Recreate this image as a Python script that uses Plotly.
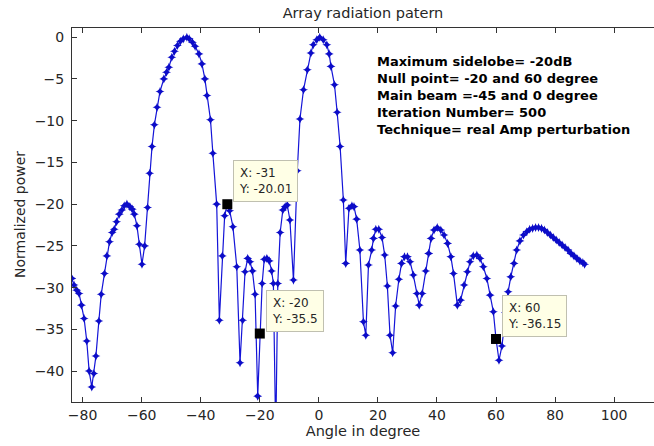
import plotly.graph_objects as go

angle_deg = [
    -83.7, -82.9, -82.0, -81.2, -80.4, -79.5, -78.6, -77.8, -76.9, -76.2, -75.5, -74.5, -73.7, -72.6,
    -71.8, -70.9, -70.0, -69.3, -68.5, -67.6, -66.7, -65.9, -65.0, -64.0, -63.2, -62.5, -61.6, -60.8,
    -59.9, -59.0, -58.0, -57.3, -56.5, -55.7, -54.8, -53.8, -52.5, -51.6, -50.8, -49.8, -48.9, -47.9,
    -46.9, -45.9, -44.7, -43.9, -42.8, -41.9, -40.6, -39.6, -38.6, -37.9, -36.7, -35.9, -34.6, -33.7,
    -32.7, -31.9, -31.0, -30.2, -29.1, -27.8, -26.7, -25.8, -25.0, -24.1, -23.3, -22.5, -21.6, -20.7,
    -20.0, -19.2, -18.5, -17.6, -16.8, -16.0, -15.4, -14.6, -13.9, -13.1, -12.2, -11.4, -10.7, -9.8,
    -8.6, -7.3, -6.4, -5.2, -3.9, -2.7, -1.9, -0.7, 0.3, 1.5, 2.7, 3.5, 4.1, 5.3, 6.2, 7.2, 8.3, 9.1,
    10.2, 11.2, 11.9, 12.8, 13.9, 15.1, 15.9, 16.8, 17.9, 18.5, 19.3, 20.3, 21.4, 22.3, 23.2, 24.1,
    25.0, 26.0, 27.1, 28.0, 29.0, 30.0, 30.9, 32.0, 33.2, 34.0, 35.0, 36.2, 37.2, 38.0, 39.0, 40.1,
    41.3, 42.4, 43.6, 44.7, 45.6, 46.9, 48.0, 49.2, 50.3, 51.2, 52.3, 53.5, 54.6, 55.7, 56.9, 58.0,
    59.1, 60.0, 61.0, 62.0, 63.2, 64.1, 65.0, 66.1, 67.0, 68.1, 69.3, 70.4, 71.4, 72.4, 73.4, 74.4,
    75.4, 76.4, 77.4, 78.4, 79.4, 80.4, 81.4, 82.4, 83.4, 84.4, 85.4, 86.4, 87.4, 88.4, 89.4, 90.0,
]
power_db = [
    -28.9, -29.7, -30.3, -30.7, -32.1, -33.7, -36.4, -40.0, -41.9, -40.3, -38.2, -34.0, -30.8, -28.3,
    -26.2, -24.5, -23.4, -23.0, -22.1, -21.2, -20.7, -20.2, -20.0, -20.3, -20.6, -21.2, -22.6, -24.8,
    -27.2, -25.0, -20.4, -16.3, -13.1, -10.5, -8.4, -6.5, -5.0, -4.2, -3.6, -2.4, -1.7, -1.0,
    -0.5, -0.2, 0.0, -0.2, -0.6, -1.1, -2.0, -3.2, -5.0, -7.0, -9.9, -13.9, -20.0, -33.9,
    -26.2, -21.4, -20.01, -20.8, -22.7, -27.5, -39.0, -33.9, -28.1, -26.5, -26.9, -28.0, -30.8, -43.0,
    -35.5, -29.5, -26.6, -26.5, -26.8, -28.0, -29.5, -48.0, -29.5, -23.4, -20.7, -20.3, -20.1, -21.9,
    -29.1, -16.0, -9.8, -6.3, -3.9, -1.9, -0.9, -0.3, 0.0, -0.3, -0.9, -2.0, -3.5, -5.7, -9.0, -13.1, -19.5, -27.1,
    -20.5, -20.2, -20.3, -21.8, -25.5, -34.1, -35.7, -27.3, -25.5, -24.1, -23.0, -23.0, -24.0, -26.1, -29.8, -35.7,
    -37.8, -32.2, -29.0, -27.1, -26.3, -26.3, -26.9, -28.5, -30.7, -32.1, -30.7, -28.0, -25.9, -24.1, -23.1, -22.8,
    -23.1, -23.7, -24.7, -26.3, -28.3, -32.1, -31.5, -29.7, -28.1, -26.9, -26.2, -26.1, -26.5, -27.5, -28.9, -30.9,
    -32.9, -36.15, -38.7, -37.0, -33.0, -30.5, -28.7, -27.1, -25.5, -24.4, -23.7, -23.3, -23.0, -22.9, -22.8, -22.8,
    -22.9, -23.1, -23.4, -23.7, -24.0, -24.3, -24.6, -24.9, -25.2, -25.5, -25.9, -26.2, -26.5, -26.8, -27.0, -27.2,
]

tip_x = [-31, -20, 60]
tip_y = [-20.01, -35.5, -36.15]
tip_text = ["X: -31<br>Y: -20.01", "X: -20<br>Y: -35.5", "X: 60<br>Y: -36.15"]

x_ticks = [-80, -60, -40, -20, 0, 20, 40, 60, 80, 100]
y_ticks = [0, -5, -10, -15, -20, -25, -30, -35, -40]

info_lines = [
    "Maximum sidelobe= -20dB",
    "Null point= -20 and 60 degree",
    "Main beam =-45 and 0 degree",
    "Iteration Number= 500",
    "Technique= real Amp perturbation",
]

FONT = "DejaVu Sans, Verdana, sans-serif"
TXT = "#262626"
L, T, W, H = 72, 28, 582, 374  # plot area in pixels

fig = go.Figure()
fig.add_trace(go.Scatter(
    x=angle_deg, y=power_db, mode="lines+markers",
    line=dict(color="#1414d8", width=1.2),
    marker=dict(symbol="star-diamond", size=6.5, color="#0c0cc8"),
    showlegend=False, hoverinfo="skip",
))
fig.add_trace(go.Scatter(
    x=tip_x, y=tip_y, mode="markers",
    marker=dict(symbol="square", size=10, color="black"),
    showlegend=False, hoverinfo="skip",
))

for tx, ty, tt in zip(tip_x, tip_y, tip_text):
    fig.add_annotation(
        x=tx, y=ty, xref="x", yref="y", text=tt, showarrow=False,
        xanchor="left", yanchor="bottom", xshift=6, yshift=2,
        align="left", bgcolor="#ffffe6", bordercolor="#c0c0b0", borderwidth=1,
        borderpad=5, font=dict(family=FONT, size=12, color=TXT),
    )

fig.add_annotation(
    x=(375 - L) / W, y=(T + H - 52) / H, xref="paper", yref="paper",
    text="<br>".join("<b>%s</b>" % s for s in info_lines),
    showarrow=False, xanchor="left", yanchor="top", align="left",
    font=dict(family="DejaVu Sans, Verdana, sans-serif", size=13, color="black"),
)

fig.add_annotation(
    x=(20 - L) / W, y=(T + H - 215) / H, xref="paper", yref="paper",
    text="Normalized power", textangle=-90,
    showarrow=False, xanchor="center", yanchor="middle",
    font=dict(family=FONT, size=14, color=TXT),
)

fig.update_layout(
    width=654, height=446,
    margin=dict(l=L, r=0, t=T, b=446 - T - H, autoexpand=False),
    paper_bgcolor="white", plot_bgcolor="white",
    title=dict(text="Array radiation patern", x=363 / 654, xanchor="center",
               y=1 - 13 / 446, yanchor="middle", automargin=False,
               font=dict(family=FONT, size=14.5, color=TXT)),
    xaxis=dict(
        range=[-83.6, 113.5], tickvals=x_ticks, ticks="inside", ticklen=5, tickcolor="#333",
        showline=True, linecolor="#333", linewidth=1, mirror="ticks", showgrid=False, zeroline=False,
        automargin=False,
        tickfont=dict(family=FONT, size=14, color=TXT),
        title=dict(text="Angle in degree", standoff=2, font=dict(family=FONT, size=14.5, color=TXT)),
    ),
    yaxis=dict(
        range=[-43.7, 1.1], tickvals=y_ticks, ticks="inside", ticklen=5, tickcolor="#333",
        showline=True, linecolor="#333", linewidth=1, mirror=False, showgrid=False, zeroline=False,
        automargin=False, ticklabelstandoff=4,
        tickfont=dict(family=FONT, size=14, color=TXT),
    ),
)

fig.write_html(
    "out.html",
    config={"displayModeBar": False},
    post_script="document.body.style.margin='0';document.body.style.overflow='hidden';",
)
